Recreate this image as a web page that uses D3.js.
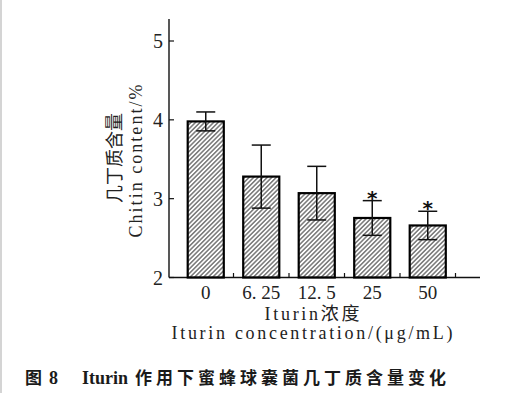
<!DOCTYPE html>
<html>
<head>
<meta charset="utf-8">
<script src="https://cdn.jsdelivr.net/npm/d3@7"></script>
<style>
  html, body { margin: 0; padding: 0; background: #fff; }
  svg { display: block; }
</style>
</head>
<body>
<script>
// chart data
const categories = ['0', '6. 25', '12. 5', '25', '50']
const means = [3.98, 3.28, 3.07, 2.755, 2.66]
const errors = [0.12, 0.40, 0.34, 0.22, 0.18]
const marks = ['', '', '', '*', '*']
const yTicks = [2, 3, 4, 5]

const latin = '"Liberation Serif", "DejaVu Serif", serif'
const cjk = '"Noto Sans CJK SC", sans-serif'

const svg = d3.select('body').append('svg')
  .attr('width', 512)
  .attr('height', 393)

// faint left border of the scanned page
svg.append('rect').attr('x', 0).attr('y', 0).attr('width', 2).attr('height', 393).attr('fill', '#d4d4d4')

// hatch pattern for the bars
const defs = svg.append('defs')
defs.append('pattern')
  .attr('id', 'hatch')
  .attr('patternUnits', 'userSpaceOnUse')
  .attr('width', 3.2)
  .attr('height', 3.2)
  .attr('patternTransform', 'rotate(45)')
  .append('line')
  .attr('x1', 0.8).attr('y1', 0).attr('x2', 0.8).attr('y2', 3.2)
  .attr('stroke', '#444').attr('stroke-width', 1.1)

// scales
const y = d3.scaleLinear().domain([2, 5]).range([277.5, 41])
const x = d3.scaleBand().domain(categories).range([178, 455.5]).paddingInner(0.35).paddingOuter(0.175)

const g = svg.append('g')

// y axis
g.append('line')
  .attr('x1', 169).attr('x2', 169)
  .attr('y1', 19).attr('y2', 277.5)
  .attr('stroke', '#111').attr('stroke-width', 1.4)

g.selectAll('.ytick')
  .data(yTicks)
  .enter().append('line')
  .attr('class', 'ytick')
  .attr('x1', 169).attr('x2', 174)
  .attr('y1', d => y(d)).attr('y2', d => y(d))
  .attr('stroke', '#111').attr('stroke-width', 1.2)

g.selectAll('.ylab')
  .data(yTicks)
  .enter().append('text')
  .attr('class', 'ylab')
  .attr('x', 163)
  .attr('y', d => y(d) + 7)
  .attr('text-anchor', 'end')
  .style('font-family', latin)
  .style('font-size', '20px')
  .attr('fill', '#222')
  .text(d => d)

// x axis
g.append('line')
  .attr('x1', 169).attr('x2', 480)
  .attr('y1', 277.5).attr('y2', 277.5)
  .attr('stroke', '#111').attr('stroke-width', 1.6)

// small ticks between the bars
const step = x.step()
g.selectAll('.xtick')
  .data(categories)
  .enter().append('line')
  .attr('class', 'xtick')
  .attr('x1', d => x(d) + x.bandwidth() / 2 + step / 2)
  .attr('x2', d => x(d) + x.bandwidth() / 2 + step / 2)
  .attr('y1', 277.5).attr('y2', 273)
  .attr('stroke', '#111').attr('stroke-width', 1.2)

g.selectAll('.xlab')
  .data(categories)
  .enter().append('text')
  .attr('class', 'xlab')
  .attr('x', d => x(d) + x.bandwidth() / 2)
  .attr('y', 298.5)
  .attr('text-anchor', 'middle')
  .style('font-family', latin)
  .style('font-size', '19px')
  .attr('fill', '#222')
  .text(d => d)

// bars
g.selectAll('.bar')
  .data(means)
  .enter().append('rect')
  .attr('class', 'bar')
  .attr('x', (d, i) => x(categories[i]))
  .attr('y', d => y(d))
  .attr('width', x.bandwidth())
  .attr('height', d => y(2) - y(d))
  .attr('fill', 'url(#hatch)')
  .attr('stroke', '#000')
  .attr('stroke-width', 2.2)

// error bars
const err = g.selectAll('.err')
  .data(means)
  .enter().append('g')
  .attr('class', 'err')
  .attr('transform', (d, i) => 'translate(' + (x(categories[i]) + x.bandwidth() / 2) + ',0)')

err.append('line')
  .attr('x1', 0).attr('x2', 0)
  .attr('y1', (d, i) => y(d + errors[i]))
  .attr('y2', (d, i) => y(d - errors[i]))
  .attr('stroke', '#111').attr('stroke-width', 1.5)

err.append('line')
  .attr('x1', -9.5).attr('x2', 9.5)
  .attr('y1', (d, i) => y(d + errors[i]))
  .attr('y2', (d, i) => y(d + errors[i]))
  .attr('stroke', '#111').attr('stroke-width', 1.5)

err.append('line')
  .attr('x1', -9.5).attr('x2', 9.5)
  .attr('y1', (d, i) => y(d - errors[i]))
  .attr('y2', (d, i) => y(d - errors[i]))
  .attr('stroke', '#111').attr('stroke-width', 1.5)

// significance marks
err.append('text')
  .attr('x', 0)
  .attr('y', (d, i) => y(d + errors[i]) + 4)
  .attr('text-anchor', 'middle')
  .style('font-family', '"DejaVu Sans", sans-serif')
  .style('font-size', '20px')
  .style('font-weight', 'bold')
  .attr('fill', '#111')
  .text((d, i) => marks[i])

// axis titles
svg.append('text')
  .attr('transform', 'translate(121,158) rotate(-90)')
  .attr('text-anchor', 'middle')
  .style('font-family', cjk)
  .style('font-size', '18px')
  .attr('fill', '#222')
  .text('几丁质含量')

svg.append('text')
  .attr('transform', 'translate(142,161) rotate(-90)')
  .attr('text-anchor', 'middle')
  .attr('textLength', 153)
  .attr('lengthAdjust', 'spacing')
  .style('font-family', latin)
  .style('font-size', '18px')
  .attr('fill', '#222')
  .text('Chitin content/%')

svg.append('text')
  .attr('x', 312).attr('y', 320)
  .attr('text-anchor', 'middle')
  .attr('textLength', 95)
  .attr('lengthAdjust', 'spacing')
  .style('font-family', latin + ', ' + cjk)
  .style('font-size', '18px')
  .attr('fill', '#222')
  .text('Iturin浓度')

svg.append('text')
  .attr('x', 312).attr('y', 339)
  .attr('text-anchor', 'middle')
  .attr('textLength', 281)
  .attr('lengthAdjust', 'spacing')
  .style('font-family', latin)
  .style('font-size', '18px')
  .attr('fill', '#222')
  .text('Iturin concentration/(μg/mL)')

// caption
const cap = svg.append('text')
  .attr('y', 384)
  .attr('fill', '#1a1a1a')
  .style('font-weight', 'bold')
cap.append('tspan').attr('x', 25).style('font-family', cjk).style('font-size', '17px').text('图')
cap.append('tspan').attr('x', 49).style('font-family', '"Liberation Serif", serif').style('font-size', '18px').text('8')
cap.append('tspan').attr('x', 82).style('font-family', '"Liberation Serif", serif').style('font-size', '18px').text('Iturin')
cap.append('tspan').attr('x', 135).style('font-family', cjk).style('font-size', '17px')
  .style('letter-spacing', '4px').text('作用下蜜蜂球囊菌几丁质含量变化')
</script>
</body>
</html>
